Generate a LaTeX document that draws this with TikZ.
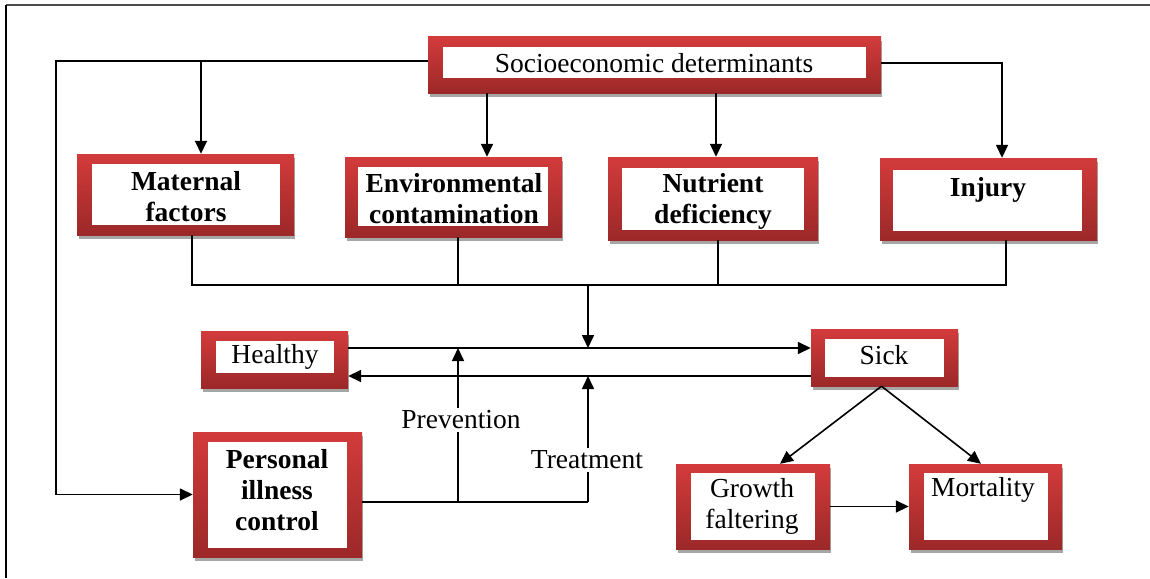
\documentclass[tikz,border=0pt]{standalone}
\usepackage{fontspec}
\setmainfont{Liberation Serif}
\usetikzlibrary{arrows.meta,fit}
\definecolor{redtop}{RGB}{211,59,59}
\definecolor{redbot}{RGB}{156,40,40}
\definecolor{shadowc}{RGB}{166,166,166}
\tikzset{
  outerbox/.style={inner sep=0pt, top color=redtop, bottom color=redbot, draw=none},
  innerbox/.style={inner sep=0pt, fill=white, draw=none},
  txt/.style={align=center, font=\fontsize{27.5}{31}\selectfont, inner sep=0pt},
  btxt/.style={align=center, font=\fontsize{27.5}{31}\selectfont\bfseries, inner sep=0pt},
  conn/.style={line width=1.6pt, black},
  arr/.style={conn, -{Triangle[length=13pt,width=12pt]}},
  lbl/.style={txt, fill=white, inner sep=3pt},
}
\newcommand\rbox[9]{%
  \fill[shadowc] (#2+2,#3+4) rectangle (#4+1,#5+4);
  \node[outerbox, fit={(#2,#3) (#4,#5)}] (#1) {};
  \node[innerbox, fit={(#6,#7) (#8,#9)}] (#1-in) {};
}
\begin{document}
\begin{tikzpicture}[x=1pt,y=-1pt]
\useasboundingbox (0,0) rectangle (1150,578);
\fill[white] (0,0) rectangle (1150,578);
% frame
\draw[line width=1.5pt, black!70] (6,5) -- (1150,5);
\draw[line width=1.5pt, black] (6,5) -- (6,578);

% boxes
\rbox{soc}{428}{37}{881}{93}{443}{47}{866}{78}
\rbox{mat}{77}{154}{294}{235}{92}{164}{280}{225}
\rbox{env}{345}{157}{562}{237}{358}{167}{548}{226}
\rbox{nut}{608}{157}{818}{240}{622}{168}{804}{230}
\rbox{inj}{880}{158}{1097}{240}{893}{170}{1082}{231}
\rbox{hea}{201}{331}{348}{388}{216}{341}{334}{373}
\rbox{sick}{811}{329}{958}{386}{825}{339}{944}{377}
\rbox{per}{193}{432}{362}{557}{208}{442}{347}{548}
\rbox{gro}{676}{464}{830}{549}{691}{473}{815}{540}
\rbox{mor}{909}{464}{1062}{549}{924}{473}{1048}{540}

% texts
\node[txt]  (soc-t)  at (654,63)  {Socioeconomic determinants};
\node[btxt] (mat-t)  at (186,197) {Maternal\\factors};
\node[btxt] (env-t)  at (454,199) {Environmental\\contamination};
\node[btxt] (nut-t)  at (713,201) {Nutrient\\deficiency};
\node[btxt] (inj-t)  at (988,190) {Injury};
\node[txt]  (hea-t)  at (275,357) {Healthy};
\node[txt]  (sick-t) at (884,355) {Sick};
\node[btxt] (per-t)  at (277,490) {Personal\\illness\\control};
\node[txt]  (gro-t)  at (752,506) {Growth\\faltering};
\node[txt]  (mor-t)  at (983,490) {Mortality};

% helper coordinates
\coordinate (L1) at (56,61);
\coordinate (L2) at (56,494.5);
\coordinate (M)  at (201,61);
\coordinate (E)  at (487,0);
\coordinate (N)  at (716,0);
\coordinate (J)  at (1002,0);
\coordinate (X1) at (192,0);
\coordinate (X2) at (458,0);
\coordinate (X3) at (718,0);
\coordinate (X4) at (1006,0);
\coordinate (B)  at (0,285);
\coordinate (C)  at (588,285);
\coordinate (HS1) at ([yshift=11.5pt]hea.east);
\coordinate (HS2) at ([yshift=-16.5pt]hea.east);
\coordinate (P)  at ([yshift=-7.5pt]per.east);
\coordinate (PV) at (458,0);
\coordinate (T)  at (588,0);

% top connectors
\draw[arr] ([yshift=4pt]soc.west) -- (L1) -- (L2) -- (per.west);
\draw[arr] (M) -- (M |- mat.north);
\draw[arr] (soc.south -| E) -- (env.north -| E);
\draw[arr] (soc.south -| N) -- (nut.north -| N);
\draw[arr] ([yshift=2pt]soc.east) -| (J |- inj.north);

% collector
\draw[conn] (mat.south -| X1) -- (X1 |- B) -- (X4 |- B) -- (inj.south -| X4);
\draw[conn] (env.south -| X2) -- (X2 |- B);
\draw[conn] (nut.south -| X3) -- (X3 |- B);
\draw[arr] (C) -- (C |- HS1);

% healthy <-> sick
\draw[arr] (HS1) -- (HS1 -| sick.west);
\draw[arr] (HS2 -| sick.west) -- (HS2);

% personal illness control
\draw[conn] (P) -- (P -| T);
\draw[arr] (P -| PV) -- (PV |- HS1);
\draw[arr] (P -| T) -- (T |- HS2);
\node[lbl] (prev) at (461,420) {Prevention};
\node[lbl] (treat) at (587,460) {Treatment};

% sick outcomes
\draw[arr] ([xshift=-3pt]sick.south) -- ([xshift=27pt]gro.north);
\draw[arr] ([xshift=-3pt]sick.south) -- ([xshift=-4.5pt]mor.north);
\draw[arr] (gro.east) -- (mor.west);
\end{tikzpicture}
\end{document}
